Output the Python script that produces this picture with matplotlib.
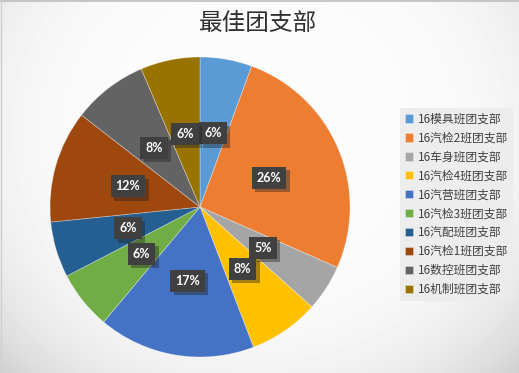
import matplotlib
matplotlib.use("Agg")
import matplotlib.pyplot as plt
import matplotlib.patheffects as pe
import numpy as np

CJK = ["Noto Sans CJK SC", "DejaVu Sans"]

# données (parts en %)
branches = ["16模具班团支部", "16汽检2班团支部", "16车身班团支部", "16汽检4班团支部",
            "16汽营班团支部", "16汽检3班团支部", "16汽配班团支部", "16汽检1班团支部",
            "16数控班团支部", "16机制班团支部"]
parts = [5.6, 26.0, 5.0, 7.6, 16.9, 6.3, 6.0, 12.1, 8.1, 6.4]
couleurs = ["#5B9BD5", "#ED7D31", "#A5A5A5", "#FFC000", "#4472C4",
            "#70AD47", "#255E91", "#9E480E", "#636363", "#997300"]

W, H = 519, 373
fig = plt.figure(figsize=(W / 100, H / 100), dpi=100)

# fond en dégradé radial (style Excel)
bg = fig.add_axes([0, 0, 1, 1])
yy, xx = np.mgrid[0:1:H * 1j, 0:1:W * 1j]
r = np.sqrt(((xx - 0.5) / 0.5) ** 2 + ((yy - 0.35) / 0.65) ** 2)
v = np.clip(252 - 9.8 * r ** 4.35, 200, 252) / 255
bg.imshow(v, cmap="gray", vmin=0, vmax=1, extent=[0, 1, 0, 1], aspect="auto")
bg.plot([0, 1], [0.998, 0.998], color="#bdbdbd", lw=1.2)
bg.plot([0.001, 0.001], [0, 1], color="#cfcfcf", lw=1)
bg.set_xlim(0, 1); bg.set_ylim(0, 1); bg.axis("off")

ax = fig.add_axes([50 / W, 16 / H, 300 / W, 300 / H])
ax.set_aspect("equal")
wedges, _, autotexts = ax.pie(
    parts, colors=couleurs, startangle=90, counterclock=False, radius=1,
    autopct="%.0f%%", pctdistance=0.5,
    wedgeprops=dict(edgecolor=(1, 1, 1, 0.35), linewidth=0.6),
    textprops=dict(color="white", fontsize=9, fontweight="bold", family=["Lato", "DejaVu Sans"]))
for t in autotexts:
    t.set_bbox(dict(boxstyle="square,pad=0.4", facecolor="#404040", edgecolor="none"))
    t.get_bbox_patch().set_path_effects(
        [pe.withSimplePatchShadow(offset=(2.5, -2.5), shadow_rgbFace="#202020", alpha=0.4)])
ax.set_xlim(-1, 1); ax.set_ylim(-1, 1)
ax.axis("off")

fig.text(258 / W, 1 - 24 / H, "最佳团支部", ha="center", va="center",
         fontsize=17, color="#303030", family=CJK)

leg = fig.legend(wedges, branches, loc="upper left", bbox_to_anchor=(400 / W, 1 - 108 / H),
                 frameon=True, facecolor="#ececec", edgecolor="none", fancybox=False,
                 prop=dict(family=CJK, size=8.5), labelcolor="#404040",
                 handlelength=0.7, handleheight=0.7, handletextpad=0.4,
                 labelspacing=0.5, borderpad=0.4, borderaxespad=0)
leg.get_frame().set_alpha(0.9)

fig.savefig("out.png", dpi=100)
